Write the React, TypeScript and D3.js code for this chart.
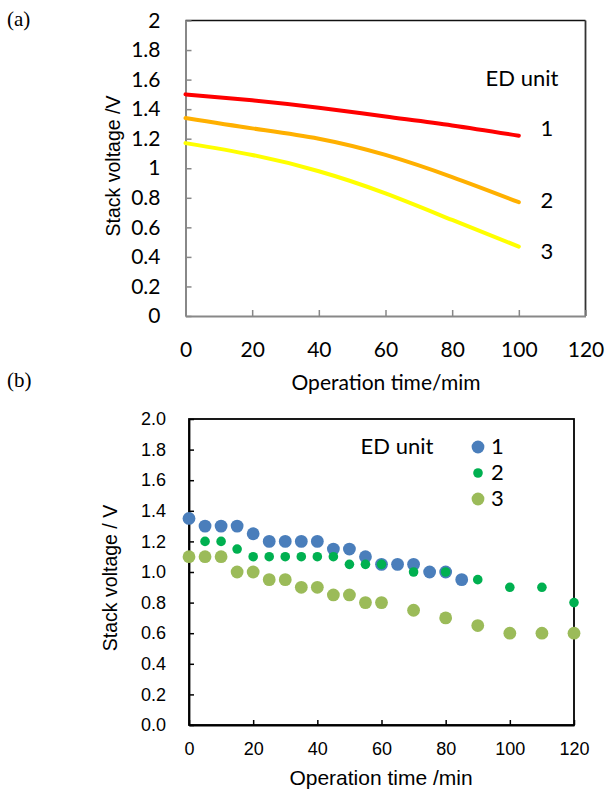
import React, { useRef, useEffect } from 'react';
import * as d3 from 'd3';

// (a) smoothed curves
const timeA = [0, 20, 40, 60, 80, 100];
const unit1A = [1.5, 1.46, 1.41, 1.35, 1.29, 1.22];
const unit2A = [1.34, 1.27, 1.2, 1.09, 0.94, 0.77];
const unit3A = [1.17, 1.09, 0.98, 0.83, 0.65, 0.47];
const unitNames = ['1', '2', '3'];

// (b) measured points
const timeB1 = [0, 5, 10, 15, 20, 25, 30, 35, 40, 45, 50, 55, 60, 65, 70, 75, 80, 85];
const unit1B = [1.35, 1.3, 1.3, 1.3, 1.25, 1.2, 1.2, 1.2, 1.2, 1.15, 1.15, 1.1, 1.05, 1.05, 1.05, 1.0, 1.0, 0.95];
const timeB2 = [5, 10, 15, 20, 25, 30, 35, 40, 45, 50, 55, 60, 70, 80, 90, 100, 110, 120];
const unit2B = [1.2, 1.2, 1.15, 1.1, 1.1, 1.1, 1.1, 1.1, 1.1, 1.05, 1.05, 1.05, 1.0, 1.0, 0.95, 0.9, 0.9, 0.8];
const timeB3 = [0, 5, 10, 15, 20, 25, 30, 35, 40, 45, 50, 55, 60, 70, 80, 90, 100, 110, 120];
const unit3B = [1.1, 1.1, 1.1, 1.0, 1.0, 0.95, 0.95, 0.9, 0.9, 0.85, 0.85, 0.8, 0.8, 0.75, 0.7, 0.65, 0.6, 0.6, 0.6];

const xTicks = [0, 20, 40, 60, 80, 100, 120];
const yTicks = [0, 0.2, 0.4, 0.6, 0.8, 1, 1.2, 1.4, 1.6, 1.8, 2];

const colorsA = ['#ff0000', '#ffb000', '#ffff00'];
const colorsB = ['#4a7ebb', '#00b050', '#9bbb59'];
const radiiB = [6.4, 4.8, 6.4];

const calibri = 'Lato, "Open Sans", sans-serif';
const arial = '"Liberation Sans", Arial, sans-serif';

const App = () => {
  const ref = useRef<SVGSVGElement | null>(null);

  useEffect(() => {
    const svg = d3.select(ref.current);
    svg.selectAll('*').remove();

    // ---------- panel (a) ----------
    const xA = d3.scaleLinear().domain([0, 120]).range([185.5, 585.5]);
    const yA = d3.scaleLinear().domain([0, 2]).range([316, 20.5]);
    const gA = svg.append('g');

    gA.append('line')
      .attr('x1', xA(0)).attr('x2', xA(120))
      .attr('y1', yA(2)).attr('y2', yA(2))
      .attr('stroke', '#111').attr('stroke-width', 1.3);
    gA.append('line')
      .attr('x1', xA(120)).attr('x2', xA(120))
      .attr('y1', yA(2)).attr('y2', yA(0))
      .attr('stroke', '#333').attr('stroke-width', 1.8);

    gA.append('g')
      .attr('transform', `translate(${xA(0)},0)`)
      .call(d3.axisLeft(yA).tickValues(yTicks).tickFormat(d3.format('~g')).tickSize(-6).tickSizeOuter(0).tickPadding(25))
      .call((g) => g.select('.domain').attr('stroke', '#888').attr('stroke-width', 2))
      .call((g) => g.selectAll('.tick line').attr('stroke', '#888').attr('stroke-width', 1.5))
      .call((g) => g.selectAll('text').attr('fill', '#000').attr('font-size', 21).attr('font-family', calibri));

    gA.append('g')
      .attr('transform', `translate(0,${yA(0)})`)
      .call(d3.axisBottom(xA).tickValues(xTicks).tickSize(-6).tickSizeOuter(0))
      .call((g) => g.select('.domain').attr('stroke', '#888').attr('stroke-width', 2))
      .call((g) => g.selectAll('.tick line').attr('stroke', '#888').attr('stroke-width', 1.5))
      .call((g) => g.selectAll('text').attr('y', 34).attr('dy', '0.35em').attr('fill', '#000')
        .attr('font-size', 21).attr('font-family', calibri));

    const lineA = d3.line<number>()
      .curve(d3.curveNatural)
      .x((_, i) => xA(timeA[i]))
      .y((d) => yA(d));

    [unit1A, unit2A, unit3A].forEach((vals, k) => {
      gA.append('path')
        .datum(vals)
        .attr('fill', 'none')
        .attr('stroke', colorsA[k])
        .attr('stroke-width', 4)
        .attr('stroke-linecap', 'round')
        .attr('d', lineA);
    });

    gA.append('text')
      .attr('x', 522).attr('y', 78).attr('dy', '0.35em')
      .attr('text-anchor', 'middle')
      .attr('font-family', calibri).attr('font-size', 22)
      .text('ED unit');

    const labelYA = [128, 200, 251];
    unitNames.forEach((n, k) => {
      gA.append('text')
        .attr('x', 547).attr('y', labelYA[k]).attr('dy', '0.35em')
        .attr('text-anchor', 'middle')
        .attr('font-family', calibri).attr('font-size', 22)
        .text(n);
    });

    gA.append('text')
      .attr('x', 386).attr('y', 383).attr('dy', '0.35em')
      .attr('text-anchor', 'middle')
      .attr('font-family', calibri).attr('font-size', 21)
      .text('Operation time/mim');

    gA.append('text')
      .attr('transform', 'translate(113,166) rotate(-90)')
      .attr('dy', '0.35em')
      .attr('text-anchor', 'middle')
      .attr('font-family', arial).attr('font-size', 19.5)
      .text('Stack voltage /V');

    svg.append('text')
      .attr('x', 7).attr('y', 26)
      .attr('font-family', '"Liberation Serif", "Times New Roman", serif').attr('font-size', 21)
      .text('(a)');

    svg.append('text')
      .attr('x', 7).attr('y', 387)
      .attr('font-family', '"Liberation Serif", "Times New Roman", serif').attr('font-size', 21)
      .text('(b)');

    // ---------- panel (b) ----------
    const xB = d3.scaleLinear().domain([0, 120]).range([189, 574]);
    const yB = d3.scaleLinear().domain([0, 2]).range([725, 419]);
    const gB = svg.append('g');

    gB.append('rect')
      .attr('x', xB(0)).attr('y', yB(2))
      .attr('width', xB(120) - xB(0)).attr('height', yB(0) - yB(2))
      .attr('fill', 'none').attr('stroke', '#000').attr('stroke-width', 1.8);

    gB.append('g')
      .attr('transform', `translate(${xB(0)},0)`)
      .call(d3.axisLeft(yB).tickValues(yTicks).tickFormat(d3.format('.1f')).tickSize(-5).tickSizeOuter(0).tickPadding(23))
      .call((g) => g.select('.domain').attr('stroke', '#000').attr('stroke-width', 1.8))
      .call((g) => g.selectAll('.tick line').attr('stroke', '#000').attr('stroke-width', 1.5))
      .call((g) => g.selectAll('text').attr('fill', '#000').attr('font-size', 18).attr('font-family', arial));

    gB.append('g')
      .attr('transform', `translate(0,${yB(0)})`)
      .call(d3.axisBottom(xB).tickValues(xTicks).tickSize(-5).tickSizeOuter(0))
      .call((g) => g.select('.domain').attr('stroke', '#000').attr('stroke-width', 1.8))
      .call((g) => g.selectAll('.tick line').attr('stroke', '#000').attr('stroke-width', 1.5))
      .call((g) => g.selectAll('text').attr('y', 24).attr('dy', '0.35em').attr('fill', '#000')
        .attr('font-size', 18).attr('font-family', arial));

    const seriesB = [
      { t: timeB1, v: unit1B },
      { t: timeB2, v: unit2B },
      { t: timeB3, v: unit3B },
    ];
    seriesB.forEach((s, k) => {
      gB.append('g')
        .selectAll('circle')
        .data(s.v)
        .join('circle')
        .attr('cx', (_, i) => xB(s.t[i]))
        .attr('cy', (d) => yB(d))
        .attr('r', radiiB[k])
        .attr('fill', colorsB[k]);
    });

    gB.append('text')
      .attr('x', 397).attr('y', 446).attr('dy', '0.35em')
      .attr('text-anchor', 'middle')
      .attr('font-family', calibri).attr('font-size', 22)
      .text('ED unit');

    const legY = [447, 473, 499];
    unitNames.forEach((n, k) => {
      gB.append('circle')
        .attr('cx', 478).attr('cy', legY[k])
        .attr('r', radiiB[k]).attr('fill', colorsB[k]);
      gB.append('text')
        .attr('x', 491).attr('y', legY[k] - 1).attr('dy', '0.35em')
        .attr('font-family', calibri).attr('font-size', 22)
        .text(n);
    });

    gB.append('text')
      .attr('x', 381).attr('y', 778).attr('dy', '0.35em')
      .attr('text-anchor', 'middle')
      .attr('font-family', arial).attr('font-size', 21)
      .text('Operation time /min');

    gB.append('text')
      .attr('transform', 'translate(110,578) rotate(-90)')
      .attr('dy', '0.35em')
      .attr('text-anchor', 'middle')
      .attr('font-family', arial).attr('font-size', 19.5)
      .text('Stack voltage / V');
  }, []);

  return (
    <svg
      ref={ref}
      width={608}
      height={793}
      style={{ position: 'absolute', left: 0, top: 0, background: '#fff' }}
    />
  );
};

export default App;
